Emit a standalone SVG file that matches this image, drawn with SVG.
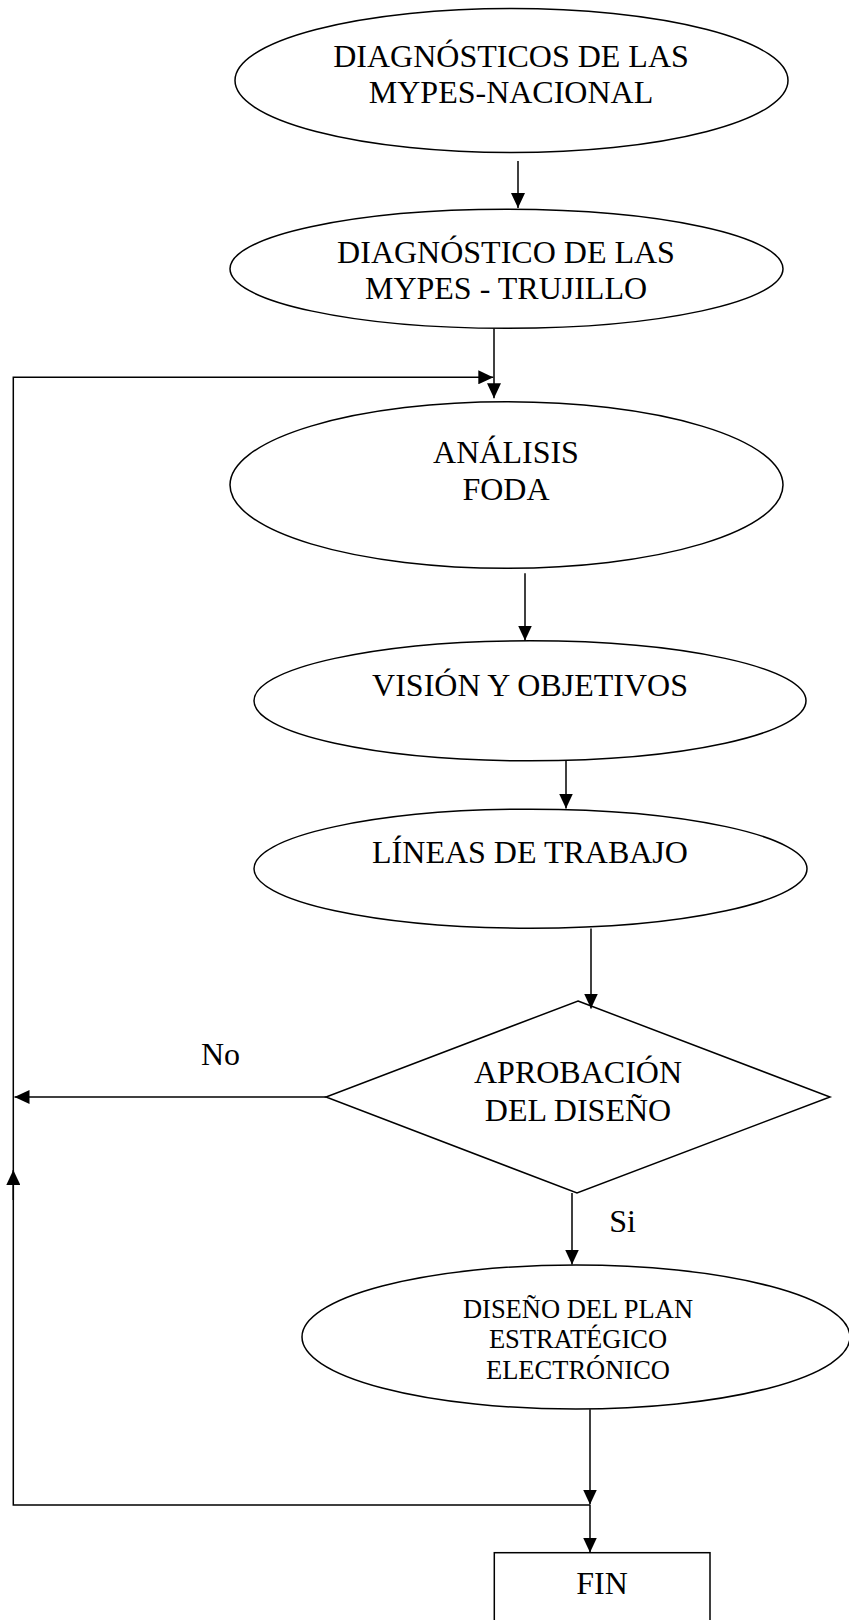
<svg xmlns="http://www.w3.org/2000/svg" width="849" height="1620" viewBox="0 0 849 1620">
<style>
.shape{fill:#fff;stroke:#000;stroke-width:1.5}
.conn{fill:none;stroke:#000;stroke-width:1.5}
text{font-family:"Liberation Serif","Times New Roman",serif;font-size:32px;fill:#000;text-anchor:middle}
.sm{font-size:26.5px}
</style>
<defs>
<marker id="ah" viewBox="0 0 15 14" refX="15" refY="7" markerWidth="15" markerHeight="14" markerUnits="userSpaceOnUse" orient="auto">
<path d="M0,0 L15,7 L0,14 z" fill="#000"/>
</marker>
</defs>
<rect width="849" height="1620" fill="#fff"/>
<g id="n1">
<ellipse class="shape" cx="511.5" cy="80.5" rx="276.5" ry="72"/>
<text x="511" y="66.7">DIAGNÓSTICOS DE LAS</text>
<text x="511" y="103.3">MYPES-NACIONAL</text>
</g>
<g id="n2">
<ellipse class="shape" cx="506.5" cy="268.8" rx="276.5" ry="59.5"/>
<text x="506" y="263.3">DIAGNÓSTICO DE LAS</text>
<text x="506" y="299">MYPES - TRUJILLO</text>
</g>
<g id="n3">
<ellipse class="shape" cx="506.5" cy="485" rx="276.5" ry="83.3"/>
<text x="506" y="463.3">ANÁLISIS</text>
<text x="506" y="500">FODA</text>
</g>
<g id="n4">
<ellipse class="shape" cx="530" cy="700.8" rx="276" ry="60"/>
<text x="530" y="695.7">VISIÓN Y OBJETIVOS</text>
</g>
<g id="n5">
<ellipse class="shape" cx="530.5" cy="868.7" rx="276.5" ry="59.5"/>
<text x="530" y="863.3">LÍNEAS DE TRABAJO</text>
</g>
<g id="n6">
<polygon class="shape" points="578,1001 830,1097 577,1193 326,1097"/>
<text x="578" y="1083.3">APROBACIÓN</text>
<text x="578" y="1120.7">DEL DISEÑO</text>
</g>
<g id="n7">
<ellipse class="shape" cx="576" cy="1337" rx="274" ry="72"/>
<text class="sm" x="578" y="1318.3">DISEÑO DEL PLAN</text>
<text class="sm" x="578" y="1347.7">ESTRATÉGICO</text>
<text class="sm" x="578" y="1379.3">ELECTRÓNICO</text>
</g>
<g id="n8">
<rect class="shape" x="494.3" y="1552.7" width="215.7" height="80"/>
<text x="602" y="1594">FIN</text>
</g>
<g id="connectors">
<path class="conn" d="M518,161 V208" marker-end="url(#ah)"/>
<path class="conn" d="M494,328.5 V398.3" marker-end="url(#ah)"/>
<path class="conn" d="M525,573.3 V640.5" marker-end="url(#ah)"/>
<path class="conn" d="M566,761 V808.5" marker-end="url(#ah)"/>
<path class="conn" d="M591,928.5 V1008.5" marker-end="url(#ah)"/>
<path class="conn" d="M326,1097 H14.5" marker-end="url(#ah)"/>
<path class="conn" d="M572,1193 V1264.5" marker-end="url(#ah)"/>
<path class="conn" d="M590,1409.3 V1504.5" marker-end="url(#ah)"/>
<path class="conn" d="M590,1505 V1552.5" marker-end="url(#ah)"/>
<path class="conn" d="M590,1505 H13.3 V1170"/>
<path class="conn" d="M13.3,1200 V1170" marker-end="url(#ah)"/>
<path class="conn" d="M13.3,1170 V377.3 H493.3" marker-end="url(#ah)"/>
<text x="220.5" y="1065">No</text>
<text x="622.5" y="1232.3">Si</text>
</g>
</svg>
